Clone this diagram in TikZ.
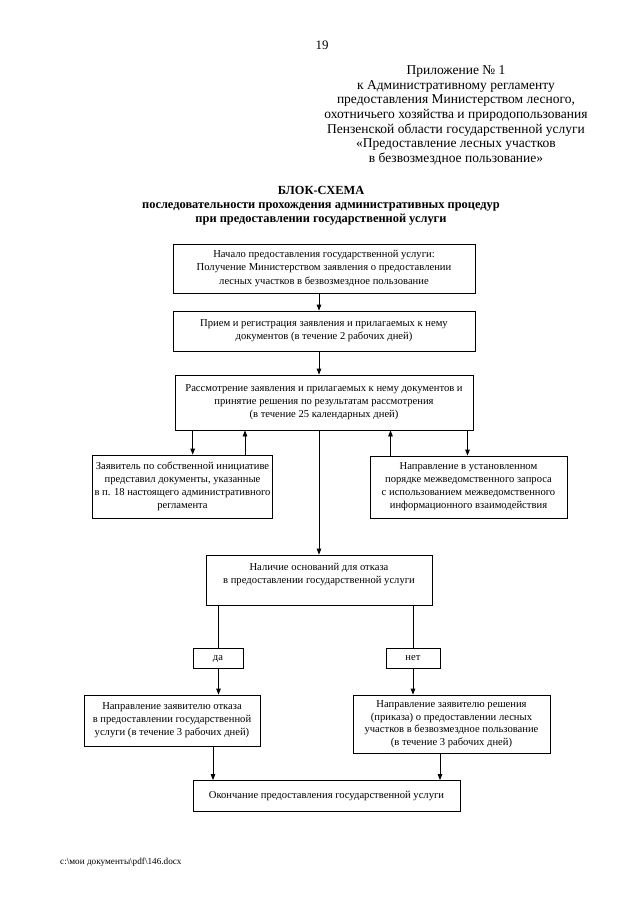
\documentclass[tikz,border=0pt]{standalone}
\usepackage{fontspec}
\setmainfont{Liberation Serif}
\usetikzlibrary{arrows.meta}
\tikzset{
  box/.style={draw, line width=0.8pt, align=center, inner sep=2pt,
    font=\fontsize{10.6}{13.1}\selectfont},
  lbl/.style={draw, line width=0.8pt, align=center, inner sep=1pt,
    text height=5pt, text depth=0pt,
    font=\fontsize{10.6}{13.1}\selectfont},
  conn/.style={line width=0.8pt},
  arr/.style={line width=0.8pt, -{Triangle[length=6pt,width=4.5pt]}},
}
\begin{document}
\begin{tikzpicture}[x=1pt,y=-1pt]
\useasboundingbox[fill=white] (0,0) rectangle (640,905);
% page number and header
\node[font=\fontsize{12.9}{14.8}\selectfont] (pg) at (322,45) {19};
\node[align=center, anchor=north, inner sep=0pt,
  font=\fontsize{13.5}{14.6}\selectfont] (hdr) at (456,65.5)
  {Приложение № 1\\к Административному регламенту\\предоставления Министерством лесного,\\охотничьего хозяйства и природопользования\\Пензенской области государственной услуги\\«Предоставление лесных участков\\в безвозмездное пользование»};
\node[align=center, anchor=north, inner sep=0pt,
  font=\fontsize{12.4}{14.2}\bfseries] (ttl) at (321,186)
  {БЛОК-СХЕМА\\последовательности прохождения административных процедур\\при предоставлении государственной услуги};
% boxes
\node[box, minimum width=302pt, minimum height=49pt] (b1) at (324,268.5)
  {Начало предоставления государственной услуги:\\Получение Министерством заявления о предоставлении\\лесных участков в безвозмездное пользование};
\node[box, minimum width=302pt, minimum height=40pt] (b2) at (324,331)
  {Прием и регистрация заявления и прилагаемых к нему\\документов (в течение 2 рабочих дней)};
\node[box, minimum width=298pt, minimum height=55pt] (b3) at (324,402.5)
  {Рассмотрение заявления и прилагаемых к нему документов и\\принятие решения по результатам рассмотрения\\(в течение 25 календарных дней)};
\node[box, minimum width=173pt, minimum height=63pt] (bl) at (182.5,486.5)
  {Заявитель по собственной инициативе\\представил документы, указанные\\в п. 18 настоящего административного\\регламента};
\node[box, minimum width=197pt, minimum height=62pt] (br) at (468.5,487)
  {Направление в установленном\\порядке межведомственного запроса\\с использованием межведомственного\\информационного взаимодействия};
\node[box, minimum width=226pt, minimum height=50pt] (b4) at (319,580)
  {Наличие оснований для отказа\\в предоставлении государственной услуги\\\mbox{}};
\node[lbl, minimum width=50pt, minimum height=20pt] (yes) at (218,658) {да};
\node[lbl, minimum width=54pt, minimum height=20pt] (no) at (413,658) {нет};
\node[box, minimum width=176pt, minimum height=51pt] (b5) at (172,720.5)
  {Направление заявителю отказа\\в предоставлении государственной\\услуги (в течение 3 рабочих дней)};
\node[box, minimum width=197pt, minimum height=58pt, font=\fontsize{10.6}{12.7}\selectfont] (b6) at (451.5,724)
  {Направление заявителю решения\\(приказа) о предоставлении лесных\\участков в безвозмездное пользование\\(в течение 3 рабочих дней)};
\node[box, minimum width=267pt, minimum height=31pt] (b7) at (326.5,796)
  {Окончание предоставления государственной услуги};
% footer
\node[anchor=west, inner sep=0pt, font=\fontsize{9.2}{10}\selectfont] (ftr) at (60,862)
  {c:\textbackslash мои документы\textbackslash pdf\textbackslash 146.docx};
% connector columns
\coordinate (xa) at (319,0);
\coordinate (xl) at (192.7,0);
\coordinate (xlu) at (245,0);
\coordinate (xru) at (390.5,0);
\coordinate (xr) at (467.5,0);
\coordinate (xyes) at (218.5,0);
\coordinate (xno) at (413,0);
\coordinate (xf1) at (213,0);
\coordinate (xf2) at (440,0);
% connectors
\draw[arr] (xa |- b1.south) -- (xa |- b2.north);
\draw[arr] (xa |- b2.south) -- (xa |- b3.north);
\draw[arr] (xl |- b3.south) -- (xl |- bl.north);
\draw[arr] (xlu |- bl.north) -- (xlu |- b3.south);
\draw[arr] (xa |- b3.south) -- (xa |- b4.north);
\draw[arr] (xru |- br.north) -- (xru |- b3.south);
\draw[arr] (xr |- b3.south) -- (xr |- br.north);
\draw[conn] (xyes |- b4.south) -- (xyes |- yes.north);
\draw[conn] (xno |- b4.south) -- (xno |- no.north);
\draw[arr] (xyes |- yes.south) -- (xyes |- b5.north);
\draw[arr] (xno |- no.south) -- (xno |- b6.north);
\draw[arr] (xf1 |- b5.south) -- (xf1 |- b7.north);
\draw[arr] (xf2 |- b6.south) -- (xf2 |- b7.north);
\end{tikzpicture}
\end{document}
